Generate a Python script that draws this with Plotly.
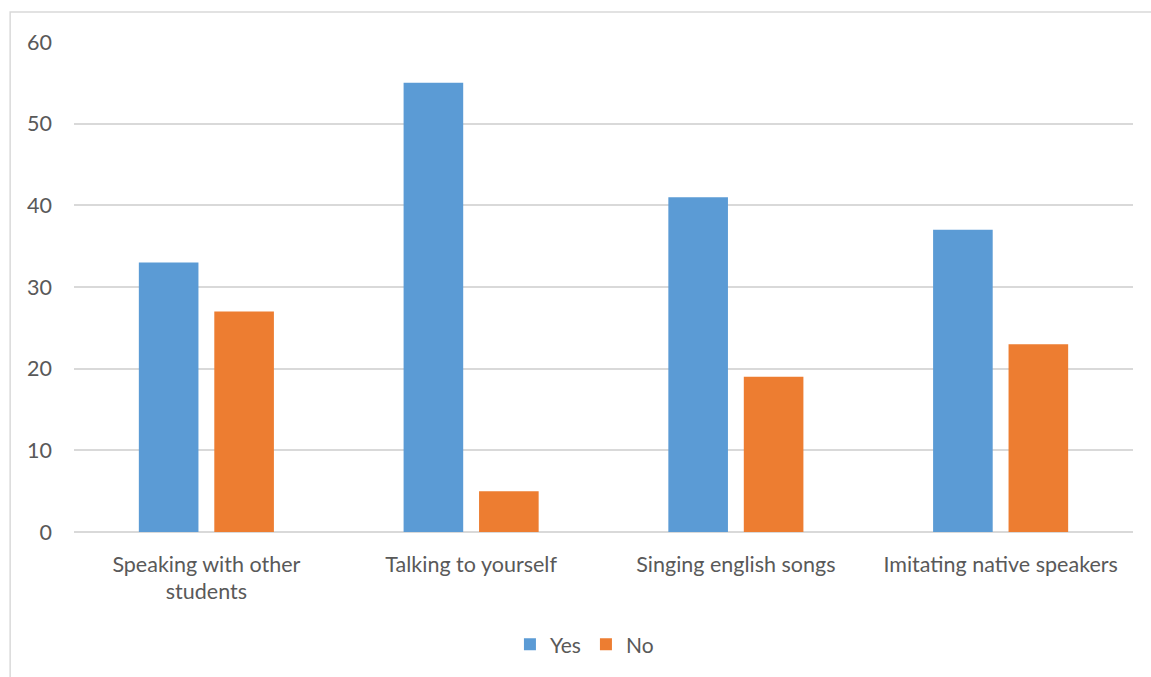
import plotly.graph_objects as go

categories = ["Speaking with other<br>students", "Talking to yourself", "Singing english songs", "Imitating native speakers"]
yes_values = [33, 55, 41, 37]
no_values = [27, 5, 19, 23]
y_ticks = [0, 10, 20, 30, 40, 50, 60]

font_family = "Lato, Open Sans, Liberation Sans, sans-serif"
text_color = "#595959"

fig = go.Figure()
fig.add_trace(go.Bar(name="Yes", x=categories, y=yes_values, marker=dict(color="#5B9BD5", line=dict(width=0))))
fig.add_trace(go.Bar(name="No", x=categories, y=no_values, marker=dict(color="#ED7D31", line=dict(width=0))))

fig.update_layout(
    width=1151, height=677,
    margin=dict(l=74, r=18, t=42, b=145),
    paper_bgcolor="white", plot_bgcolor="white",
    barmode="group", bargap=0.43, bargroupgap=0.21,
    font=dict(family=font_family, size=21.5, color=text_color),
    showlegend=True,
    legend=dict(orientation="h", x=0.482, xanchor="center", y=-0.23, yanchor="middle",
                font=dict(size=21, color=text_color), itemsizing="constant", traceorder="normal"),
    xaxis=dict(showgrid=False, showline=False, ticks="", ticklabelstandoff=17,
               tickfont=dict(size=21.5, color=text_color)),
    yaxis=dict(range=[0, 60], tickvals=y_ticks, showgrid=True, gridcolor="#d9d9d9", gridwidth=1.5,
               zeroline=True, zerolinecolor="#d9d9d9", zerolinewidth=1.5, showline=False,
               ticks="", ticklabelstandoff=21, tickfont=dict(size=21.5, color=text_color)),
    shapes=[dict(type="rect", xref="paper", yref="paper", x0=-0.0603, x1=1.2, y0=-0.5, y1=1.0612,
                 line=dict(color="#d9d9d9", width=1.5), fillcolor="rgba(0,0,0,0)", layer="below")],
)

fig.write_html("out.html")
